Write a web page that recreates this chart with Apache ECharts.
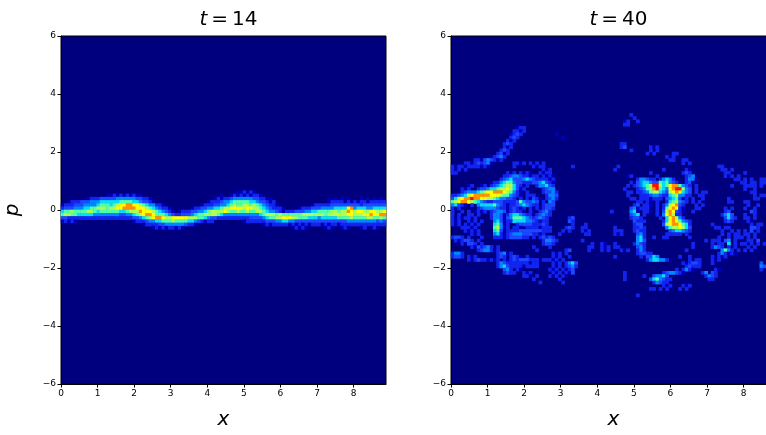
<!DOCTYPE html>
<html><head><meta charset="utf-8">
<style>html,body{margin:0;padding:0;background:#fff;overflow:hidden}#c{width:766px;height:435px}</style>
<script src="https://cdn.jsdelivr.net/npm/echarts@6/dist/echarts.min.js"></script>
</head><body><div id="c"></div>
<script>
// Phase-space density. Each row is one p-band, each group ten x-cells.
// '.'=0, 'a' and digits index into levels, '-' = ten empty cells.
const xMax = 8.886;
const xTicks = [0,1,2,3,4,5,6,7,8];
const pTicks = [-6,-4,-2,0,2,4,6];
const nCols = 100, nRows = 108;
const titles = ['14','40'];
const levels = {a:1/16, 1:2/16, 2:3/16, 3:4/16, 4:5.5/16, 5:7/16, 6:8.5/16, 7:10/16, 8:12/16, 9:14/16};
const palette = ['#00007f','#0000b8','#1224ee','#1c48ff','#0088ff','#00c8ff','#10f0f0','#50ffa8','#90ff70','#c8ff38','#ffff00','#ffc800','#ff9000','#ff5000','#ff1000','#c00000','#7f0000'];

const leftTopRow = 48;
const leftRows = [
"- - - - - ....aa1a1a",
"- ....aa1a1a 1a1aa..... - .........a ..a1a1a1a1 1a.......",
"........a1 1122222333 3332211a.. - .......a1a 1123333332 211aa..... - ..a.a.a.a. ..a.a.a.a.",
"..a1112223 3344444455 55443221a. - .....a1112 3345555544 3221a1.... - ..a1111a1a 1a11a11111",
"a111222333 3455545677 8877654331 1a........ ...a111223 3456556656 543211a... .......a11 1112222222 2212222222",
"1222333445 5666566778 8887776543 211a...... a112233445 6677776776 65432111a. ...a111222 3333444478 3444334444",
"4556555566 5455555544 5666877765 4321a.a111 2233456666 7655655655 66543321a1 1122233445 5556656687 6776677667",
"5665544444 3333333322 3345678875 5543211222 3455666654 3333333333 3456665655 5555666666 6566676677 6667787788",
"2211111111 1111111111 1122345678 8766777776 6655432211 1111111122 2234556677 7665554443 4444455556 5555665565",
"a1a1a..... - ..a1112334 4555655554 4321a11... ......a111 1112223344 3322222222 2222222233 3333333232",
"- - .....a1111 2233333321 1a........ - ..a1a11111 a1a1a1a111 a1a11a1111 1111111111",
"- - ........a1 a1a11a1a.. - - - .a1a1a.... .a1a..a1a. ..a1.a1a.."
];

const rightTopRow = 24;
const rightRows = [
"- - - - - .....1",
"- - - - - ......1",
"- - - - - ...a1..1",
"- - - - - ...11",
"- - a11",
"- .........1 1a1",
"- ........a1 21 ..a",
"- ........12 1 ....a",
"- .......1a1",
"- ......121 - - - ..11",
"- ......1a1 - - - ..12 .1a1",
"- .....121 - - - .....1 .1.1",
"- ....12a1 - - - - 1.1.....11",
"- ..a1231 - - - - ......1a1",
".......11a 2321a1 - - - - .......11 .11",
"....11a121 23a......1 1a1.1a1.1 - - - - .1.1",
"1a11a1111a 1a.......1 .....1a11 .......1 - .1 - - ..11",
"1a1.1 - ........1a 1 - 1 .....1 ..1a ...11.1",
"11 .......1a1 .1a1a..1a1 1 - - .1 .121 ....11 1.......11",
"- ......1123 3211a11.1a 1a - ....a1 ...1 ..123 ....1a1.1",
"- .....12342 2234321111 a1 - .......133 211.13431. ..133a .......11. 1.1..111",
"- ..a1134553 2211122342 1a - .....1a234 4322545321 a.12a .........1 1.11.111",
".....a1..a 1.12345664 21a1..1334 21 - ....1.1234 5699645788 5321.1 ......1 1111.1",
"...1a1..12 2344566764 2a1.....12 33 - ...1...123 5689543789 9632.1 - 1..1",
"...1233345 6778887653 1a.1....12 231 - ....11.112 3566432678 7432.1.11 - ..11",
"1123467888 8877765532 1a.111...1 332 - ....1...11 1233211456 3311..11. - ...1.11",
"2467889887 7665433221 .1.1a21a.1 231 - .....11.11 1a111.2345 2a1.1..1 .....1 ...11",
"5678876543 2112221111 2532232.1. 32 - .......11. 1a.1..1456 321.1.1 .....11 11",
"3421a.1.34 4445321a11 2343211.12 22 - ......12.1 1a.1.13678 21...1.1. - .1..1",
"1a1.....12 3333211a12 1a1.1a1.12 21 - .....23a11 1..1.15787 1a...11 ....1.1 1..1",
"1..1.1.a1a 1.12332a12 11a.1..123 1 .........1 .....34a.1 1a.1.26872 1a..1. ....12 ..21",
"1.1..11.1 ..1332a134 43211a1232 1 - .....234.1 ...1.37861 1 ...1342 1..1",
"1a1a11.1 ..1332a235 5543212321 ......12 - .....1221 ....1.4786 31 ....2421 11.1",
"1a1..1a1.1 ...342a114 4443321a11 ......21 - ......2111 .....14787 5321 ....121 .1a.",
"1a1.1a1a1 ...453a1.. 1222211121 .......1 .1 ......122 .....26788 7541 1 ..1.11",
"...111a1. ...563a1.1 1a.1111a11 1....121 11 1.....1121 ......3566 7642 .11.11 ..221",
"....1a1a1 ...452a111 1222222211 1...1.1 1a1 111...1211 .......234 4321 ...1..1.1 1.2.1",
"......1a1 ...341a123 3322211a1 ...1. .11 1a1....231 ......1111 1.1. ...1.1.11 11.1",
"1221.1...1 ...111a122 2211.1.121 21.. - .......341 ..1..11. ...1.. ..1..1.111 .1.1",
".1a1221.1 - ........13 321.. 1 .......342 - ........1 111.23.1 .11.2",
"...1a221.1 - ........12 21 ...1..1a 1.....1321 - ....1 1.11.4.1.1 1.1.1.1",
"......1a21 231.1. .....1. 1 ..11..1a1 11.....231 - ....1 1321.1.1. .1.1",
"........12 331a1 ......1 .....12 ..1...1a1 ..1a1..131 - ..1 ...3531.1 1.1",
"1331 ....123a1. - .1a1.1 - .......122 11. - ..131a1a",
"1221.1a1 ....121.12 1a.1. .1a1..1 - 1.......1 2243 1..1 1.1a1",
".....1.121 1a1a1.1a12 1222111.11 1a1.1 - - 1344331 ...1.11 1a1",
"- ....132111 1111a11 .1a1.1342 - - - .1a1221 1 .....2",
"- ....134211 11a1111 .1a1.1231 - - - ..12111 - .....32",
"- ......231. 1a...... 1a1.1a12 - - .........1 .131a .1a .....1",
"- ......1211 ..1a1. .1a1.1a2 - ...1 .....12332 1a.....13 21",
"- - ..11a.1 1a1.1a - ...1.....1 ..23342 ........13 21.",
"- - .....1 ...1 - ...1 .2453211 .........1 1",
"- - .......1 ....1 - - ..13211",
"- - - - - - .....1a1 .1a1",
"- - - - - - .11.1.1 1.1",
"- - - - - - -",
"- - - - - .......1"
];

function cells(rows, topRow) {
  const out = [];
  rows.forEach((line, i) => {
    let s = '';
    line.split(' ').forEach(g => { s += g === '-' ? '..........' : g.padEnd(10, '.').slice(0, 10); });
    for (let c = 0; c < s.length && c < nCols; c++) {
      const ch = s[c];
      if (ch === '.') continue;
      out.push([c, topRow + i, levels[ch]]);
    }
  });
  return out;
}

const font = 'DejaVu Sans';
const panels = [{left: 61}, {left: 451}];
const colIdx = Array.from({length: nCols}, (_, i) => String(i));
const rowIdx = Array.from({length: nRows}, (_, i) => String(i));
const tickFmt = v => String(v).replace('-', '\u2212');

const option = {
  animation: false,
  backgroundColor: '#fff',
  title: titles.map((t, i) => ({
    text: '{i|t}{n|\u2009=\u2009' + t + '}',
    left: panels[i].left + 162.5, top: 5, textAlign: 'center',
    textStyle: {fontWeight: 'normal', rich: {
      i: {fontFamily: font, fontStyle: 'italic', fontWeight: 'normal', fontSize: 20, color: '#000'},
      n: {fontFamily: font, fontWeight: 'normal', fontSize: 20, color: '#000'}
    }}
  })),
  grid: panels.map(p => ({
    left: p.left, top: 36, width: 325, height: 348, show: true, outerBoundsMode: 'none',
    backgroundColor: '#00007f', borderColor: '#000', borderWidth: 1
  })),
  visualMap: {
    show: false, type: 'continuous', min: 0, max: 1, seriesIndex: [0, 1], dimension: 2,
    inRange: {color: palette}
  },
  xAxis: [
    {type: 'category', gridIndex: 0, data: colIdx, show: false},
    {type: 'category', gridIndex: 1, data: colIdx, show: false},
    ...panels.map((p, i) => ({
      type: 'value', gridIndex: i, min: 0, max: xMax, position: 'bottom',
      splitLine: {show: false},
      axisLine: {show: true, onZero: false, lineStyle: {color: '#000', width: 1}},
      axisTick: {show: true, length: 3.5, customValues: xTicks, lineStyle: {color: '#000', width: 1}},
      axisLabel: {customValues: xTicks, margin: 5, fontFamily: font, fontSize: 9, color: '#000', formatter: tickFmt},
      name: 'x', nameLocation: 'middle', nameGap: 26,
      nameTextStyle: {fontFamily: font, fontStyle: 'italic', fontSize: 20, color: '#000'}
    }))
  ],
  yAxis: [
    {type: 'category', gridIndex: 0, data: rowIdx, inverse: true, show: false},
    {type: 'category', gridIndex: 1, data: rowIdx, inverse: true, show: false},
    ...panels.map((p, i) => ({
      type: 'value', gridIndex: i, min: -6, max: 6, position: 'left',
      splitLine: {show: false},
      axisLine: {show: true, onZero: false, lineStyle: {color: '#000', width: 1}},
      axisTick: {show: true, length: 3.5, customValues: pTicks, lineStyle: {color: '#000', width: 1}},
      axisLabel: {customValues: pTicks, margin: 5, fontFamily: font, fontSize: 9, color: '#000', formatter: tickFmt},
      name: i === 0 ? 'p' : '', nameLocation: 'middle', nameGap: 38, nameRotate: 90,
      nameTextStyle: {fontFamily: font, fontStyle: 'italic', fontSize: 20, color: '#000'}
    }))
  ],
  series: [
    {type: 'heatmap', xAxisIndex: 0, yAxisIndex: 0, data: cells(leftRows, leftTopRow), progressive: 0},
    {type: 'heatmap', xAxisIndex: 1, yAxisIndex: 1, data: cells(rightRows, rightTopRow), progressive: 0}
  ]
};
echarts.init(document.getElementById('c'), null, {renderer: 'canvas'}).setOption(option);
</script></body></html>
